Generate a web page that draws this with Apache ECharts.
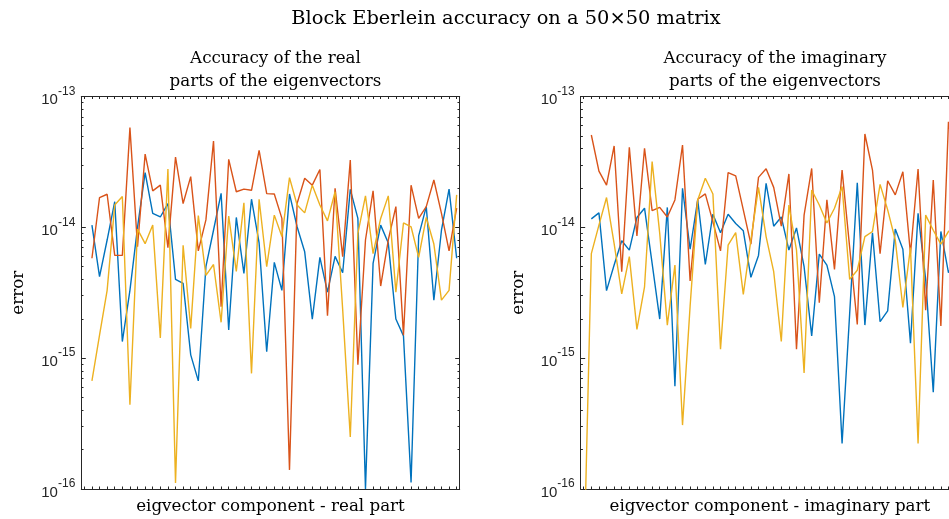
<!DOCTYPE html>
<html>
<head>
<meta charset="utf-8">
<script src="https://cdn.jsdelivr.net/npm/echarts@6/dist/echarts.min.js"></script>
<style>
  html, body { margin: 0; padding: 0; background: #ffffff; }
  #chart { width: 949px; height: 519px; }
</style>
</head>
<body>
<div id="chart"></div>
<script>
// Eigenvector component index (1..50)
const component = Array.from({ length: 50 }, (_, i) => i + 1);

// Decade tick labels of the log error axis
const decadeTicks = [1e-16, 1e-15, 1e-14, 1e-13];

// Error in the real parts of the eigenvectors
const realBlue = [null,
  1.04e-14, 4.2e-15, 8.0e-15, 1.57e-14, 1.34e-15, 3.3e-15, 1.0e-14, 2.62e-14, 1.28e-14, 1.2e-14,
  1.52e-14, 4.0e-15, 3.73e-15, 1.06e-15, 6.7e-16, 5.0e-15, 9.5e-15, 1.82e-14, 1.64e-15, 1.19e-14,
  4.45e-15, 1.64e-14, 7.6e-15, 1.12e-15, 5.4e-15, 3.3e-15, 1.8e-14, 1.01e-14, 6.5e-15, 1.99e-15,
  5.9e-15, 3.2e-15, 6.0e-15, 4.5e-15, 1.95e-14, 1.17e-14, 1.0e-16, 5.3e-15, 1.04e-14, 7.6e-15,
  1.99e-15, 1.48e-15, 1.12e-16, 8.6e-15, 1.44e-14, 2.78e-15, 9.5e-15, 1.96e-14, 5.8e-15];
const realOrange = [null,
  5.8e-15, 1.69e-14, 1.79e-14, 6.1e-15, 6.1e-15, 5.78e-14, 7.1e-15, 3.63e-14, 1.9e-14, 2.1e-14,
  7.0e-15, 3.44e-14, 1.52e-14, 2.44e-14, 6.6e-15, 1.14e-14, 4.57e-14, 2.47e-15, 3.31e-14, 1.87e-14,
  1.96e-14, 1.92e-14, 3.88e-14, 1.81e-14, 1.8e-14, 1.17e-14, 1.4e-16, 1.52e-14, 2.37e-14, 2.1e-14,
  2.77e-14, 2.11e-15, 1.99e-14, 5.97e-15, 3.27e-14, 8.9e-16, 8.0e-15, 1.9e-14, 3.56e-15, 8.0e-15,
  1.44e-14, 1.5e-15, 2.1e-14, 1.17e-14, 1.44e-14, 2.3e-14, 1.28e-14, 6.6e-15, 1.4e-14];
const realYellow = [null,
  6.7e-16, 1.5e-15, 3.3e-15, 1.48e-14, 1.72e-14, 4.4e-16, 9.7e-15, 7.5e-15, 1.04e-14, 1.43e-15,
  2.79e-14, 1.11e-16, 7.3e-15, 1.69e-15, 1.23e-14, 4.3e-15, 5.2e-15, 1.88e-15, 1.22e-14, 4.6e-15,
  1.54e-14, 7.65e-16, 1.64e-14, 5.0e-15, 1.24e-14, 8.5e-15, 2.4e-14, 1.48e-14, 1.29e-14, 2.1e-14,
  1.48e-14, 1.12e-14, 1.87e-14, 2.35e-15, 2.5e-16, 9.0e-15, 1.74e-14, 6.3e-15, 1.17e-14, 1.74e-14,
  3.2e-15, 1.08e-14, 1.01e-14, 5.9e-15, 1.19e-14, 7.45e-15, 2.78e-15, 3.3e-15, 1.77e-14];

// Error in the imaginary parts of the eigenvectors
const imagBlue = [null,
  1.16e-14, 1.29e-14, 3.28e-15, 5.15e-15, 7.9e-15, 6.7e-15, 1.19e-14, 1.4e-14, 5.3e-15, 1.99e-15,
  1.42e-14, 6.1e-16, 1.99e-14, 6.8e-15, 1.62e-14, 5.2e-15, 1.26e-14, 9.1e-15, 1.26e-14, 1.07e-14,
  9.4e-15, 4.15e-15, 6.1e-15, 2.17e-14, 1.02e-14, 1.2e-14, 6.7e-15, 9.9e-15, 5.0e-15, 1.48e-15,
  6.25e-15, 5.15e-15, 2.95e-15, 2.23e-16, 2.2e-15, 2.19e-14, 1.79e-15, 9.1e-15, 1.9e-15, 2.3e-15,
  9.7e-15, 6.8e-15, 1.3e-15, 1.28e-14, 4.0e-15, 5.5e-16, 9.3e-15, 4.5e-15, 6.0e-15];
const imagOrange = [null,
  5.08e-14, 2.69e-14, 2.1e-14, 4.19e-14, 4.58e-15, 4.09e-14, 8.6e-15, 4.02e-14, 1.34e-14, 1.42e-14,
  1.2e-14, 1.62e-14, 4.26e-14, 3.89e-15, 1.64e-14, 1.8e-14, 1.1e-14, 6.6e-15, 2.62e-14, 2.47e-14,
  1.36e-14, 7.45e-15, 2.41e-14, 2.8e-14, 2.02e-14, 1.02e-14, 2.56e-14, 1.17e-15, 1.24e-14, 2.82e-14,
  2.65e-15, 1.62e-14, 4.77e-15, 2.74e-14, 7.0e-15, 1.81e-15, 5.17e-14, 2.74e-14, 6.3e-15, 2.27e-14,
  1.77e-14, 2.66e-14, 6.3e-15, 2.79e-14, 2.33e-15, 2.3e-14, 1.76e-15, 6.4e-14, 3.0e-14];
const imagYellow = [2.3e-17,
  6.3e-15, 1.04e-14, 1.69e-14, 7.5e-15, 3.1e-15, 5.97e-15, 1.66e-15, 3.5e-15, 3.18e-14, 9.0e-15,
  1.79e-15, 5.15e-15, 3.08e-16, 2.5e-15, 1.62e-14, 2.37e-14, 1.8e-14, 1.17e-15, 7.3e-15, 9.1e-15,
  3.07e-15, 8.0e-15, 2.02e-14, 8.5e-15, 4.58e-15, 1.34e-15, 1.48e-14, 6.7e-15, 7.7e-16, 1.93e-14,
  1.48e-14, 1.08e-14, 1.4e-14, 2.05e-14, 4.0e-15, 4.7e-15, 8.5e-15, 9.3e-15, 2.13e-14, 1.36e-14,
  8.0e-15, 2.44e-15, 7.0e-15, 2.23e-16, 1.24e-14, 9.5e-15, 7.45e-15, 9.3e-15, 1.0e-14];

const COLORS = ['#0072BD', '#D95319', '#EDB120'];
const AXIS_COLOR = '#262626';
const SERIF = '"DejaVu Serif", "Liberation Serif", serif';
const SANS = '"Liberation Sans", Arial, sans-serif';

// Minor tick positions (2..9 x 10^n) expressed as exponents
const minorExponents = [];
for (let n = -16; n < -13; n++) {
  for (let m = 2; m <= 9; m++) minorExponents.push(n + Math.log10(m));
}

const panels = [
  { left: 81.3, xName: 'eigvector component - real part', series: [realBlue, realOrange, realYellow],
    title: 'Accuracy of the real\nparts of the eigenvectors' },
  { left: 580.7, xName: 'eigvector component - imaginary part', series: [imagBlue, imagOrange, imagYellow],
    title: 'Accuracy of the imaginary\nparts of the eigenvectors' }
];
const GRID_TOP = 96.5, GRID_W = 378.4, GRID_H = 392.5;

const grid = [], xAxis = [], yAxis = [], series = [], title = [];

title.push({
  text: 'Block Eberlein accuracy on a 50×50 matrix',
  left: 501, top: 4, textAlign: 'center',
  textStyle: { fontFamily: SERIF, fontSize: 19.4, fontWeight: 'normal', color: '#000' }
});

panels.forEach((p, g) => {
  grid.push({ left: p.left, top: GRID_TOP, width: GRID_W, height: GRID_H,
              containLabel: false, outerBoundsMode: 'none' });

  title.push({
    text: p.title,
    left: p.left + GRID_W / 2, top: 42, textAlign: 'center',
    textStyle: { fontFamily: SERIF, fontSize: 16.7, fontWeight: 'normal', color: '#000', lineHeight: 23 }
  });

  const xBase = {
    type: 'value', gridIndex: g, min: 0.6, max: 50.4,
    axisLine: { show: true, onZero: false, lineStyle: { color: AXIS_COLOR, width: 1 } },
    axisTick: { show: true, inside: true, length: 2.5, customValues: component,
                lineStyle: { color: AXIS_COLOR, width: 1 } },
    axisLabel: { show: false },
    splitLine: { show: false }
  };
  xAxis.push(Object.assign({}, xBase, {
    position: 'bottom', name: p.xName, nameLocation: 'middle', nameGap: 9,
    nameTextStyle: { fontFamily: SERIF, fontSize: 16.7, color: '#000', verticalAlign: 'top' }
  }));
  xAxis.push(Object.assign({}, xBase, { position: 'top' }));

  const yLogBase = {
    type: 'log', logBase: 10, gridIndex: g, min: 1e-16, max: 1e-13,
    axisLine: { show: true, onZero: false, lineStyle: { color: AXIS_COLOR, width: 1 } },
    axisTick: { show: true, inside: true, length: 4.5, lineStyle: { color: AXIS_COLOR, width: 1 } },
    splitLine: { show: false }
  };
  // main log axis: carries the series and the decade labels
  yAxis.push(Object.assign({}, yLogBase, {
    position: 'left',
    name: 'error', nameLocation: 'middle', nameGap: 54, nameRotate: 90,
    nameTextStyle: { fontFamily: SERIF, fontSize: 16.7, color: '#000' },
    axisLabel: {
      show: true, margin: 6,
      customValues: decadeTicks,
      formatter: v => '{b|10}{s|' + Math.round(Math.log10(v)) + '}',
      rich: {
        b: { fontFamily: SANS, fontSize: 15, color: AXIS_COLOR, verticalAlign: 'bottom', lineHeight: 22 },
        s: { fontFamily: SANS, fontSize: 12, color: AXIS_COLOR, verticalAlign: 'top', lineHeight: 22 }
      }
    }
  }));
  // mirrored log axis on the right side of the box
  yAxis.push(Object.assign({}, yLogBase, { position: 'right', axisLabel: { show: false } }));
  // minor ticks (2..9 within each decade), left and right
  ['left', 'right'].forEach(pos => {
    yAxis.push({
      type: 'value', gridIndex: g, min: -16, max: -13, position: pos,
      axisLine: { show: false },
      axisTick: { show: true, inside: true, length: 2.2, customValues: minorExponents,
                  lineStyle: { color: AXIS_COLOR, width: 1 } },
      axisLabel: { show: false },
      splitLine: { show: false }
    });
  });

  p.series.forEach((vals, s) => {
    series.push({
      type: 'line', xAxisIndex: g * 2, yAxisIndex: g * 4,
      data: component.map((c, i) => (vals[i] == null ? '-' : [c, vals[i]])).filter(d => d !== '-'),
      showSymbol: false, symbol: 'none', clip: true,
      lineStyle: { color: COLORS[s], width: 1.4 },
      itemStyle: { color: COLORS[s] },
      z: 2 + s
    });
  });
});

const chart = echarts.init(document.getElementById('chart'), null, { renderer: 'canvas' });
chart.setOption({
  animation: false,
  backgroundColor: '#ffffff',
  title, grid, xAxis, yAxis, series
});
</script>
</body>
</html>
